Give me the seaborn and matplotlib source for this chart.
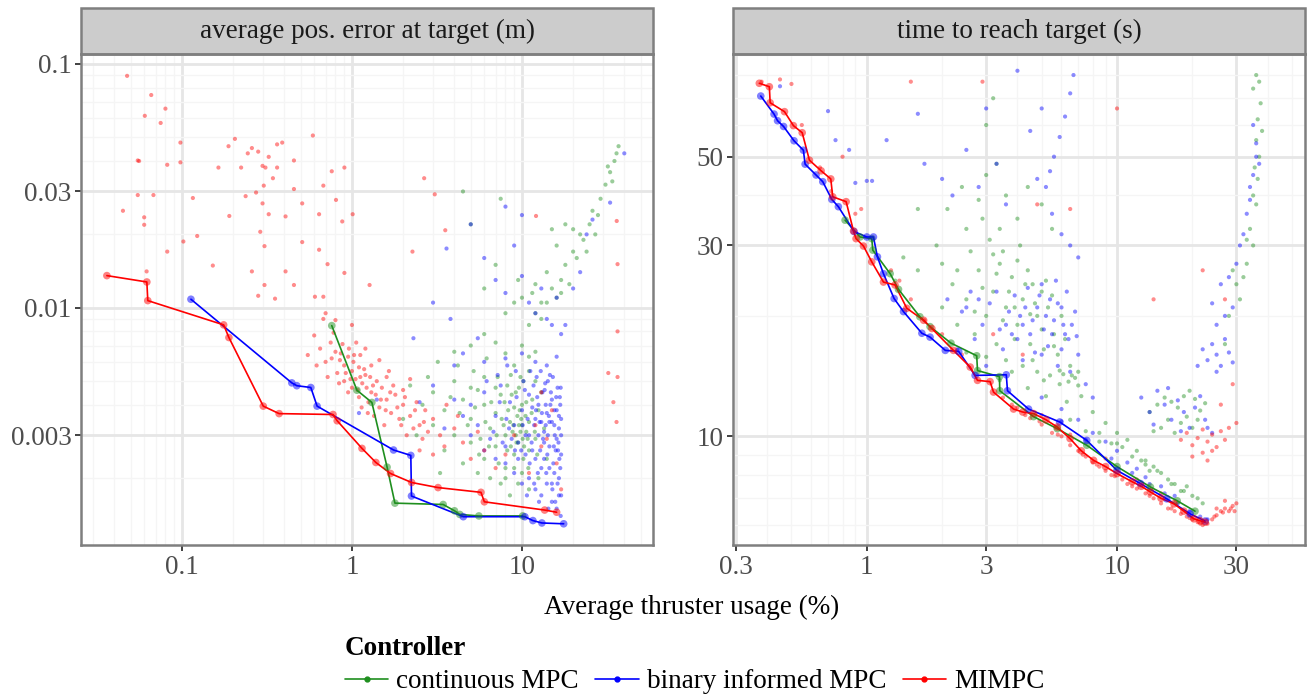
import matplotlib
matplotlib.use("Agg")
import matplotlib.pyplot as plt
import matplotlib.ticker as mticker
from matplotlib.lines import Line2D
from matplotlib.patches import Rectangle
import pandas as pd
import seaborn as sns

# ---- data -------------------------------------------------------------
controllers = ["continuous MPC", "binary informed MPC", "MIMPC"]
palette = {"continuous MPC": "#1f8f1f", "binary informed MPC": "#0000ff", "MIMPC": "#ff0000"}

# Pareto fronts, left panel (usage %, position error m)
err_front_mpc = [(0.761, 0.00845), (1.07, 0.00459), (1.31, 0.00409), (1.61, 0.00222), (1.79, 0.00158),
                 (3.44, 0.00156), (4.01, 0.00147), (4.31, 0.00142), (5.58, 0.0014), (10.1, 0.0014)]
err_front_bin = [(0.113, 0.01084), (0.443, 0.00492), (0.474, 0.00479), (0.573, 0.00471), (0.624, 0.00395),
                 (1.757, 0.00261), (2.22, 0.00248), (2.24, 0.00169), (4.52, 0.00139), (10.4, 0.00139),
                 (11.6, 0.00134), (13.1, 0.00131), (17.6, 0.0013)]
err_front_mim = [(0.0362, 0.01355), (0.0622, 0.01276), (0.063, 0.0107), (0.176, 0.00851), (0.189, 0.00755),
                 (0.301, 0.00395), (0.373, 0.00368), (0.774, 0.00365), (0.819, 0.00344), (1.146, 0.00265),
                 (1.383, 0.00232), (1.687, 0.00209), (2.244, 0.00192), (3.21, 0.00183), (5.74, 0.00175),
                 (6.01, 0.0016), (13.6, 0.00148), (16.0, 0.00145)]

# Pareto fronts, right panel (usage %, time s)
time_front_mpc = [(0.819, 34.7), (0.94, 31.5), (1.047, 31.2), (1.057, 29.2), (1.24, 25.5), (1.339, 23.3),
                  (1.63, 19.9), (1.79, 18.8), (2.17, 17.1), (2.75, 15.9), (2.77, 14.6), (3.39, 14.1),
                  (3.40, 13.0), (4.64, 11.2), (5.77, 10.45), (7.57, 9.5), (10.0, 8.4), (13.6, 7.47),
                  (17.4, 6.9), (20.5, 6.5)]
time_front_bin = [(0.377, 70.9), (0.426, 63.9), (0.44, 61.5), (0.465, 59.5), (0.512, 54.8), (0.558, 51.9),
                  (0.567, 47.9), (0.627, 45.0), (0.667, 43.3), (0.725, 39.1), (0.77, 37.5), (0.89, 32.5),
                  (1.0, 31.5), (1.063, 31.5), (1.103, 28.1), (1.166, 25.5), (1.286, 22.1), (1.402, 20.5),
                  (1.66, 18.1), (1.79, 17.7), (2.06, 16.4), (2.33, 16.3), (2.71, 14.2), (3.61, 14.25),
                  (3.65, 13.0), (4.43, 11.7), (5.9, 10.86), (7.57, 9.77), (10.0, 8.22), (12.4, 7.62),
                  (15.8, 6.98), (19.6, 6.4), (22.5, 6.14)]
time_front_mim = [(0.372, 76.3), (0.408, 74.8), (0.411, 68.2), (0.469, 64.8), (0.509, 59.8), (0.552, 57.4),
                  (0.590, 49.0), (0.657, 46.1), (0.718, 44.0), (0.731, 39.7), (0.827, 38.6), (0.885, 32.6),
                  (0.906, 31.2), (0.97, 29.9), (1.047, 27.3), (1.166, 24.3), (1.297, 23.9), (1.445, 20.9),
                  (1.688, 19.5), (1.82, 18.6), (2.22, 16.4), (2.59, 14.9), (2.77, 13.8), (3.11, 13.7),
                  (3.21, 12.9), (3.86, 11.7), (4.2, 11.5), (4.64, 11.4), (5.2, 11.0), (5.77, 10.55),
                  (6.49, 9.87), (7.2, 9.2), (8.06, 8.71), (9.0, 8.4), (10.0, 8.07), (11.5, 7.7),
                  (12.5, 7.5), (13.6, 7.26), (15.0, 7.0), (16.9, 6.78), (18.5, 6.5), (20.3, 6.22),
                  (21.5, 6.15), (22.5, 6.1)]

# individual runs, left panel
err_runs_mpc = [(3.0, 0.0045), (3.5, 0.0038), (4.0, 0.0050), (4.5, 0.0042), (5.0, 0.0035), (5.5, 0.0046),
                (6.0, 0.0040), (6.5, 0.0032), (7.0, 0.0037), (7.5, 0.0044), (8.0, 0.0030), (8.5, 0.0034),
                (9.0, 0.0039), (9.5, 0.0028), (10, 0.0033), (10.5, 0.0036), (11, 0.0026), (9.0, 0.0025),
                (8.0, 0.0022), (7.0, 0.0027), (6.0, 0.0024), (5.0, 0.0028), (4.0, 0.0030), (3.5, 0.0026),
                (3.0, 0.0033), (2.6, 0.0040), (2.8, 0.0052), (3.2, 0.0060), (4.2, 0.0058), (5.2, 0.0055),
                (6.2, 0.0062), (7.2, 0.0052), (8.2, 0.0048), (9.2, 0.0045), (10.2, 0.0050), (11.5, 0.0042),
                (12.5, 0.0038), (13.5, 0.0032), (12, 0.0029), (10, 0.0021), (9.5, 0.0019), (8.5, 0.0017),
                (7.5, 0.0019), (6.5, 0.0020), (5.5, 0.0021), (4.5, 0.0023), (11, 0.0018), (12.5, 0.0020),
                (14, 0.0024), (13, 0.0045), (11, 0.0055), (9, 0.0058), (8, 0.0065), (10, 0.0070),
                (12, 0.0066), (7, 0.0072), (6, 0.0078), (5, 0.0070), (4, 0.0066), (2.2, 0.0048),
                (2.0, 0.0035), (2.4, 0.0030), (3.3, 0.0021), (9.8, 0.0031), (9.9, 0.0035), (10.1, 0.0029),
                (9.6, 0.0033), (8.8, 0.0031), (10.3, 0.0027), (9.4, 0.0036), (8.6, 0.0027), (10.6, 0.0031),
                (9.2, 0.0030), (7.8, 0.0033), (8.3, 0.0038), (10, 0.0040), (11, 0.0034),
                (11, 0.0085), (12, 0.0095), (13, 0.009), (14, 0.0105), (15, 0.012), (16, 0.011),
                (17, 0.013), (18, 0.015), (19, 0.0125), (20, 0.017), (21, 0.016), (22, 0.02), (23, 0.019),
                (25, 0.022), (26, 0.025), (28, 0.024), (29, 0.028), (31, 0.032), (33, 0.036), (34, 0.033),
                (35, 0.04), (36, 0.043), (37, 0.046), (32, 0.038), (27, 0.02), (24, 0.017), (12, 0.0125),
                (10, 0.011), (9, 0.0105), (8, 0.0095), (6, 0.012), (7, 0.015), (5, 0.022), (4.5, 0.03),
                (7.5, 0.028), (9.5, 0.013), (14, 0.014), (16, 0.018), (15, 0.021), (18, 0.022), (20, 0.021),
                (17, 0.0115), (13, 0.0105), (11.5, 0.0115)]
err_runs_mpc_core = [(8.9, 0.0033), (9.3, 0.0028), (9.7, 0.0038), (10.2, 0.0024), (10.8, 0.0029), (8.2, 0.0026),
                     (7.6, 0.0035), (7.1, 0.0030), (6.6, 0.0041), (6.1, 0.0034), (5.7, 0.0029), (5.3, 0.0039),
                     (4.8, 0.0033), (4.3, 0.0037), (3.8, 0.0043), (8.7, 0.0044), (9.6, 0.0047), (10.6, 0.0041),
                     (11.4, 0.0037), (11.9, 0.0031), (12.3, 0.0025), (9.0, 0.0022), (8.0, 0.0020), (7.3, 0.0023),
                     (6.4, 0.0027), (5.6, 0.0025), (10.9, 0.0022), (9.8, 0.0052), (8.6, 0.0053), (7.9, 0.0041),
                     (7.0, 0.0047), (6.0, 0.0052), (5.0, 0.0047), (11.0, 0.0063), (12.0, 0.0050)]
err_runs_bin = [(5.0, 0.0040), (5.5, 0.0033), (6.0, 0.0045), (6.5, 0.0029), (7.0, 0.0036), (7.5, 0.0048),
                (8.0, 0.0027), (8.5, 0.0041), (9.0, 0.0033), (9.5, 0.0024), (10, 0.0038), (10.5, 0.0030),
                (11, 0.0044), (11.5, 0.0026), (12, 0.0035), (12.5, 0.0040), (13, 0.0022), (13.5, 0.0031),
                (14, 0.0037), (14.5, 0.0027), (15, 0.0042), (15.5, 0.0033), (16, 0.0029), (16.5, 0.0036),
                (17, 0.0025), (16.8, 0.0040), (16.2, 0.0047), (15.2, 0.0052), (14.2, 0.0050), (13.2, 0.0045),
                (12.2, 0.0052), (11.2, 0.0055), (10.2, 0.0050), (9.2, 0.0055), (8.2, 0.0058), (7.2, 0.0053),
                (6.2, 0.0050), (12, 0.0018), (13, 0.0017), (14, 0.0019), (15, 0.0016), (16, 0.0015),
                (17, 0.0017), (16.5, 0.0020), (15.5, 0.0021), (14.5, 0.0022), (11, 0.0020), (10, 0.0019),
                (9, 0.0021), (8, 0.0023), (7, 0.0024), (6, 0.0026), (5, 0.0030), (4.5, 0.0036),
                (4.0, 0.0042), (3.5, 0.0032), (12.5, 0.0030), (13.5, 0.0028), (14.5, 0.0034), (15.5, 0.0038),
                (16.5, 0.0032), (17, 0.0030), (11.8, 0.0033), (12.8, 0.0026), (13.8, 0.0040), (14.8, 0.0045),
                (15.8, 0.0026), (16.8, 0.0022), (10.8, 0.0035), (11.5, 0.0039), (12.3, 0.0043), (13.1, 0.0037),
                (14.2, 0.0030), (15.0, 0.0034), (16.0, 0.0038), (16.7, 0.0043), (13.5, 0.0024), (15, 0.0019),
                (16.5, 0.0017), (12, 0.0024), (10.5, 0.0025), (9.5, 0.0028), (17, 0.0035), (16.3, 0.0026),
                (15.6, 0.0030), (11, 0.0030), (12.7, 0.0034), (13.8, 0.0033), (8, 0.0062), (10, 0.0065),
                (12, 0.0060), (14, 0.0058), (16, 0.0063), (6, 0.0060), (4, 0.0058), (3, 0.0048), (2.5, 0.0041),
                (1.1, 0.0037), (1.4, 0.0042), (2.3, 0.0075), (3.0, 0.0105), (3.6, 0.0175), (5, 0.022),
                (6, 0.016), (7, 0.013), (8, 0.0115), (9, 0.018), (10, 0.0135), (11, 0.0105), (12, 0.0095),
                (13, 0.012), (14, 0.009), (15, 0.0085), (16, 0.011), (17, 0.0078), (18, 0.0085), (20, 0.012),
                (22, 0.014), (24, 0.02), (26, 0.023), (33, 0.027), (40, 0.043), (10, 0.024), (8, 0.026),
                (5.5, 0.0075), (4.5, 0.0065), (3.8, 0.0090)]
err_runs_bin_core = [(6.8, 0.0031), (7.4, 0.0041), (8.1, 0.0035), (8.7, 0.0029), (9.3, 0.0043), (9.9, 0.0026),
                     (10.4, 0.0046), (11.1, 0.0023), (11.7, 0.0048), (12.4, 0.0021), (13.0, 0.0034), (13.6, 0.0046),
                     (14.1, 0.0025), (14.7, 0.0040), (15.3, 0.0023), (15.9, 0.0043), (16.4, 0.0028), (16.9, 0.0047),
                     (12.1, 0.0038), (13.3, 0.0029), (14.4, 0.0036), (15.4, 0.0027), (16.6, 0.0024), (11.4, 0.0028),
                     (10.1, 0.0033), (9.1, 0.0026), (8.4, 0.0032), (7.7, 0.0028), (13.9, 0.0021), (15.1, 0.0018),
                     (16.2, 0.0019), (12.6, 0.0016), (14.3, 0.0015), (11.8, 0.0019), (10.7, 0.0017), (16.9, 0.0014),
                     (15.7, 0.0016), (13.7, 0.0049), (12.9, 0.0055), (14.6, 0.0053)]
err_runs_mim = [(0.0476, 0.0894), (0.066, 0.0746), (0.0605, 0.0613), (0.075, 0.0573), (0.08, 0.0656),
                (0.055, 0.0402), (0.056, 0.0400), (0.098, 0.0476), (0.098, 0.0395), (0.082, 0.0386),
                (0.055, 0.029), (0.068, 0.029), (0.06, 0.0235), (0.06, 0.0219), (0.045, 0.025),
                (0.082, 0.017), (0.102, 0.0187), (0.116, 0.0282), (0.123, 0.0197), (0.152, 0.0149),
                (0.062, 0.0141), (0.244, 0.0430), (0.258, 0.0452), (0.281, 0.0437), (0.298, 0.0382),
                (0.31, 0.0376), (0.324, 0.0416), (0.363, 0.0468), (0.389, 0.0476), (0.343, 0.034),
                (0.303, 0.0317), (0.273, 0.0297), (0.298, 0.0268), (0.324, 0.0242), (0.289, 0.0205),
                (0.306, 0.0179), (0.258, 0.0141), (0.306, 0.0124), (0.281, 0.0112), (0.205, 0.0493),
                (0.188, 0.046), (0.164, 0.0376), (0.223, 0.0376), (0.237, 0.0287), (0.19, 0.0238),
                (0.363, 0.0376), (0.456, 0.0402), (0.456, 0.0307), (0.407, 0.0237), (0.51, 0.0268),
                (0.589, 0.0509), (0.679, 0.0317), (0.641, 0.0242), (0.761, 0.0363), (0.903, 0.0376),
                (0.806, 0.0277), (1.01, 0.0242), (0.877, 0.0226), (0.641, 0.0173), (0.719, 0.0151),
                (0.903, 0.0139), (0.679, 0.0111), (0.51, 0.0186), (0.407, 0.0141), (0.353, 0.0109),
                (0.456, 0.0124), (1.27, 0.0124), (2.27, 0.0170), (2.66, 0.034), (3.54, 0.0208),
                (3.07, 0.0292), (12.1, 0.0238), (36.1, 0.0227), (36.5, 0.0151), (36.5, 0.0080),
                (32.2, 0.0054), (36.5, 0.0052), (34.5, 0.0041), (36, 0.0034), (0.606, 0.0111), (0.679, 0.009),
                (0.75, 0.0072), (0.8, 0.0066), (0.85, 0.0061), (0.9, 0.0058), (0.95, 0.0063), (1.0, 0.0055),
                (1.05, 0.0051), (1.1, 0.0057), (1.15, 0.0049), (1.2, 0.0053), (1.0, 0.0047), (0.9, 0.0050),
                (0.82, 0.0054), (0.7, 0.0060), (0.65, 0.0068), (0.78, 0.0079), (0.88, 0.0071), (1.12, 0.0064),
                (1.3, 0.0058), (1.4, 0.0050), (1.3, 0.0045), (1.5, 0.0047), (1.6, 0.0042), (1.45, 0.0039),
                (1.7, 0.0037), (1.8, 0.0044), (2.0, 0.0040), (1.9, 0.0035), (2.2, 0.0036), (2.3, 0.0032),
                (2.1, 0.0030), (2.5, 0.0033), (2.6, 0.0029), (2.8, 0.0031), (1.25, 0.0041), (1.1, 0.0043),
                (0.95, 0.0045), (1.6, 0.0052), (1.75, 0.0048), (2.0, 0.0046), (2.4, 0.0041), (2.7, 0.0038),
                (3.0, 0.0035), (3.3, 0.0030), (3.5, 0.0027), (3.0, 0.0025), (2.5, 0.0026), (4.0, 0.0032),
                (4.5, 0.0028), (5.0, 0.0024), (6.0, 0.0026), (5.5, 0.0031), (7.0, 0.0022), (8.0, 0.0025),
                (4.2, 0.0036), (3.6, 0.0040), (2.2, 0.0051), (1.2, 0.0068), (0.6, 0.0077), (0.55, 0.0064),
                (0.62, 0.0058), (0.72, 0.0052), (1.35, 0.0036), (1.55, 0.0033), (0.8, 0.0089), (1.0, 0.0085),
                (0.7, 0.0095), (9, 0.0030), (11, 0.0021), (13, 0.0027), (12, 0.0033), (14, 0.0029),
                (15, 0.0038), (16, 0.0023), (13, 0.0045), (17, 0.0018)]
err_runs_mim_core = [(0.92, 0.0054), (1.02, 0.0060), (1.08, 0.0046), (1.18, 0.0056), (1.22, 0.0047), (1.28, 0.0052),
                     (1.38, 0.0044), (1.48, 0.0042), (1.58, 0.0038), (1.68, 0.0045), (0.86, 0.0065), (0.96, 0.0068),
                     (1.06, 0.0072), (0.76, 0.0062), (0.84, 0.0049), (1.14, 0.0039), (1.24, 0.0037), (1.85, 0.0039),
                     (1.95, 0.0033), (2.05, 0.0043), (2.35, 0.0038), (2.65, 0.0034), (1.65, 0.0055), (1.45, 0.0061),
                     (0.98, 0.0051), (1.33, 0.0048), (1.12, 0.0052), (1.03, 0.0064)]

# individual runs, right panel
time_runs_mpc = [(2.1, 37), (2.5, 33), (1.9, 30), (2.8, 39), (3.0, 45), (3.3, 48), (2.4, 42), (2.0, 27),
                 (3.6, 40), (4.0, 35), (4.4, 42), (5, 38), (5.5, 33), (3.2, 70), (3.0, 60), (1.6, 37),
                 (1.4, 28), (1.6, 26), (1.3, 24.5), (2.2, 24), (2.5, 22), (2.8, 26), (3.0, 20), (3.2, 23),
                 (3.4, 27), (3.6, 21), (3.8, 25), (4.0, 19), (4.2, 22), (4.4, 26), (4.6, 24), (4.8, 20),
                 (5.0, 23), (5.3, 21), (5.6, 18), (6.0, 20), (2.6, 29), (3.1, 31), (3.5, 29), (4.1, 30),
                 (2.0, 21), (2.3, 19), (2.7, 18), (3.3, 17), (3.9, 17.5), (4.5, 17), (5.1, 16.5), (5.8, 16),
                 (6.5, 15), (7, 14.5), (4.8, 14.5), (5.4, 14.2), (6.1, 14.3), (6.8, 14.0), (5.9, 13.5),
                 (4.2, 15), (3.6, 15.5), (3.0, 15.8), (2.5, 16.2), (3.4, 13.8), (4.4, 13.2), (5.2, 12.6),
                 (6.3, 12.2), (7.2, 12.6), (8, 11.5), (9, 10.8), (10, 10.2), (11, 9.8), (12, 9.2), (13, 8.7),
                 (14, 8.4), (15, 8.1), (16, 7.8), (17, 7.6), (18, 7.3), (20, 7.1), (19, 7.5), (9.5, 9.6),
                 (11.5, 8.9), (13.5, 8.2), (7.5, 10.3), (8.5, 9.7), (6.5, 11), (13.5, 11.5), (14.5, 12.0),
                 (15.5, 12.5), (16.5, 12.2), (17.5, 11.8), (18.5, 12.6), (19.5, 13.0), (20.5, 12.4),
                 (21.5, 11.6), (22.5, 12.1), (16, 11), (18, 10.8), (20, 10.5), (17, 10.2), (15, 10.5),
                 (14, 10.3), (19, 11.2), (21, 11), (36, 80), (37, 77), (35, 74), (37.5, 68), (36.5, 62),
                 (38, 58), (36, 55), (37, 50), (35.5, 47), (36.5, 44), (35, 40), (36, 38), (34, 33), (33, 31),
                 (35, 30), (32, 25), (30, 24), (28, 20), (31, 22), (33, 27), (29, 26), (27, 17)]
time_runs_mpc_core = [(2.3, 26), (2.9, 23.5), (3.3, 25.5), (3.7, 23), (4.3, 24), (4.7, 21.5), (5.2, 24.5),
                      (5.5, 22.5), (3.9, 21), (3.5, 19.5), (4.5, 20.2), (5.0, 18.5), (5.6, 16.8), (6.2, 17.5),
                      (6.6, 14.2), (5.9, 14.6), (5.1, 13.8), (4.6, 15.5), (3.8, 14.5), (4.0, 27.5), (3.2, 28.5),
                      (2.7, 20.5), (3.4, 33), (2.9, 35), (6.4, 13.7), (7.0, 13.4), (8.5, 10.2), (10.5, 9.4),
                      (12.5, 8.7), (14.5, 8.2), (16.5, 7.6), (18.5, 7.3), (10, 9.6), (13, 8.5), (21, 7.0),
                      (22, 6.8)]
time_runs_bin = [(0.45, 75), (0.7, 65), (0.75, 55), (0.85, 52), (0.9, 43), (1.0, 43.5), (1.05, 43.5),
                 (1.2, 55), (1.6, 64), (1.7, 48), (2.0, 44), (2.2, 40), (2.5, 52), (2.8, 42), (3.3, 48),
                 (3.6, 38), (4.5, 58), (4.8, 44), (5.2, 42), (5.5, 36), (6.0, 32), (6.5, 30), (7.0, 28),
                 (5.4, 46), (5.6, 50), (5.9, 56), (6.2, 63), (6.5, 72), (6.7, 80), (4.0, 82), (3.0, 66),
                 (5.0, 66), (2.1, 22), (2.4, 20.5), (2.6, 23), (2.9, 19), (3.1, 21.5), (3.4, 18.5),
                 (3.7, 20.5), (4.0, 17.5), (4.3, 21), (4.6, 19.5), (4.9, 22.5), (5.2, 20), (5.5, 18),
                 (5.8, 21.5), (6.1, 19), (6.4, 17.5), (6.8, 20.5), (5.0, 24), (5.7, 24.5), (6.3, 23),
                 (4.4, 23.5), (3.5, 16.5), (4.2, 15.5), (5.0, 16), (5.8, 15), (6.5, 14.5), (7.0, 16),
                 (7.5, 13.5), (8.0, 12.5), (3.0, 15), (2.7, 17.5), (2.3, 16.5), (7, 11), (8, 10.2),
                 (9, 9.7), (10, 9.2), (11, 8.6), (12, 8.3), (13, 7.9), (15, 7.5), (17, 7.1), (6, 11.7),
                 (5, 12.5), (12.5, 12.5), (13.5, 11.5), (14.5, 13), (15.5, 12), (16.5, 11), (17.5, 12.3),
                 (18.5, 11.5), (19.5, 10.5), (20.5, 11.8), (21.5, 12.6), (22.5, 11), (16, 13.2), (14, 10.7),
                 (18, 10.3), (23, 10.5), (24, 10.2), (21, 15), (22, 16.5), (23, 15.5), (24, 17), (25, 16),
                 (26, 15), (27, 17.5), (28, 16.2), (29, 15.3), (25, 19), (27, 20), (29, 21), (24, 21.5),
                 (26, 24), (28, 25), (25, 14.5), (30, 27), (31, 30), (32, 32), (33, 36), (34, 42), (35, 45),
                 (36, 50), (36, 54), (37, 48), (35, 60), (34, 39)]
time_runs_bin_core = [(2.5, 21), (2.8, 22), (3.3, 23), (3.6, 19), (3.9, 22.5), (4.1, 20), (4.5, 18), (4.8, 21),
                      (5.1, 18.5), (5.4, 22), (5.6, 19.5), (6.0, 21), (6.2, 18), (6.6, 19), (5.3, 16.8),
                      (4.7, 16.2), (6.0, 16.5), (6.9, 17.8), (4.2, 19), (3.8, 18), (6, 10.9), (7.5, 9.8),
                      (9.5, 8.8), (11.5, 8.1), (13.5, 7.6), (15.5, 7.2), (17.5, 6.8), (19.5, 6.5), (21.5, 6.3),
                      (23, 6.2)]
time_runs_mim = [(0.38, 77), (0.45, 78), (0.5, 76), (0.55, 60), (0.65, 47), (0.72, 41), (0.8, 50), (1.5, 77),
                 (2.9, 77), (0.9, 36), (0.95, 37), (1.25, 26), (1.35, 24.5), (1.5, 22), (1.7, 19.5),
                 (2.0, 18), (2.4, 16), (3.2, 18), (4.2, 16), (4.8, 38), (6.5, 37), (10, 66), (22, 26),
                 (14, 22), (27, 22), (26, 12), (29, 13.5), (30, 10.8), (3.5, 12.5), (4.0, 11.8), (4.5, 11.1),
                 (5.0, 10.7), (5.5, 10.2), (6.0, 10.0), (6.5, 9.5), (7.0, 9.2), (7.5, 8.9), (8.0, 8.6),
                 (8.5, 8.4), (9.0, 8.2), (9.5, 8.0), (10.5, 7.8), (11, 7.6), (12, 7.4), (13, 7.2), (14, 7.0),
                 (15, 6.8), (16, 6.6), (17, 6.5), (18, 6.4), (19, 6.3), (20, 6.2), (21, 6.1), (22, 6.0),
                 (23, 6.05), (24, 6.2), (25, 6.35), (26, 6.5), (27, 6.6), (28, 6.5), (29, 6.7), (30, 6.8),
                 (25, 6.6), (27, 6.9), (5.0, 11.3), (6.5, 10.1), (9.0, 8.8), (12, 7.8), (15, 7.2), (18, 9.8),
                 (19, 10.2), (20, 9.5), (21, 9.9), (22, 10.4), (23, 9.7), (24, 10.1), (25, 9.4), (26, 10.3),
                 (27, 9.8), (28, 10.5), (22, 9.1), (24, 9.2), (20, 8.9), (23, 8.7)]
time_runs_mim_core = [(3.8, 12.0), (4.3, 11.3), (4.9, 10.9), (5.8, 10.1), (7.3, 9.0), (8.3, 8.5), (9.8, 7.95),
                      (11.5, 7.5), (13.5, 7.1), (16.5, 6.6), (19.5, 6.25), (21.5, 6.05), (24.5, 6.3),
                      (26.5, 6.45), (28.5, 6.6), (29.5, 6.5)]

err_ticks = [0.003, 0.01, 0.03, 0.1]
err_ticklabels = ["0.003", "0.01", "0.03", "0.1"]
time_ticks = [10, 30, 50]
time_ticklabels = ["10", "30", "50"]
usage_ticks_left = [0.1, 1, 10]
usage_ticklabels_left = ["0.1", "1", "10"]
usage_ticks_right = [0.3, 1, 3, 10, 30]
usage_ticklabels_right = ["0.3", "1", "3", "10", "30"]


def to_frame(parts):
    rows = []
    for name, pts in zip(controllers, parts):
        for x, y in pts:
            rows.append({"usage": x, "value": y, "Controller": name})
    return pd.DataFrame(rows)


err_front = to_frame([err_front_mpc, err_front_bin, err_front_mim])
err_runs = to_frame([err_runs_mpc + err_runs_mpc_core, err_runs_bin + err_runs_bin_core,
                     err_runs_mim + err_runs_mim_core])
time_front = to_frame([time_front_mpc, time_front_bin, time_front_mim])
time_runs = to_frame([time_runs_mpc + time_runs_mpc_core, time_runs_bin + time_runs_bin_core,
                      time_runs_mim + time_runs_mim_core])

# ---- style ------------------------------------------------------------
sns.set_style("white")
plt.rcParams["font.family"] = ["Liberation Serif", "DejaVu Serif"]
plt.rcParams["text.color"] = "black"
FS = 19.5

fig = plt.figure(figsize=(13.11, 6.97), dpi=100)
ax1 = fig.add_axes([81.3 / 1311, 1 - 545 / 697, 571.7 / 1311, 491 / 697])
ax2 = fig.add_axes([733 / 1311, 1 - 545 / 697, 572 / 1311, 491 / 697])


def draw_panel(ax, runs, front, xlim, ylim, xt, xtl, yt, ytl, title):
    ax.set_xscale("log")
    ax.set_yscale("log")
    sns.scatterplot(data=runs, x="usage", y="value", hue="Controller", hue_order=controllers,
                    palette=palette, s=9, alpha=0.45, linewidth=0, legend=False, ax=ax, zorder=2)
    for name in controllers:
        sub = front[front["Controller"] == name]
        sns.lineplot(data=sub, x="usage", y="value", sort=False, estimator=None, color=palette[name],
                     linewidth=1.2, legend=False, ax=ax, zorder=3)
    sns.scatterplot(data=front, x="usage", y="value", hue="Controller", hue_order=controllers,
                    palette=palette, s=30, alpha=0.5, linewidth=0, legend=False, ax=ax, zorder=4)
    ax.set_xlim(*xlim)
    ax.set_ylim(*ylim)
    ax.xaxis.set_major_locator(mticker.FixedLocator(xt))
    ax.xaxis.set_major_formatter(mticker.FixedFormatter(xtl))
    ax.yaxis.set_major_locator(mticker.FixedLocator(yt))
    ax.yaxis.set_major_formatter(mticker.FixedFormatter(ytl))
    ax.xaxis.set_minor_locator(mticker.LogLocator(subs=(2, 3, 4, 5, 6, 7, 8, 9)))
    ax.yaxis.set_minor_locator(mticker.LogLocator(subs=(2, 3, 4, 5, 6, 7, 8, 9)))
    ax.xaxis.set_minor_formatter(mticker.NullFormatter())
    ax.yaxis.set_minor_formatter(mticker.NullFormatter())
    ax.grid(which="major", color="#e6e6e6", linewidth=2.0, zorder=0)
    ax.grid(which="minor", color="#f5f5f5", linewidth=1.0, zorder=0)
    ax.set_axisbelow(True)
    ax.tick_params(which="major", length=4, width=1.3, color="#333333", labelcolor="#4d4d4d",
                   labelsize=FS, pad=3, bottom=True, left=True)
    ax.tick_params(which="minor", length=0)
    for sp in ax.spines.values():
        sp.set_color("#7f7f7f")
        sp.set_linewidth(1.8)
    ax.set_xlabel("")
    ax.set_ylabel("")
    # facet strip
    strip_h = 46 / 491
    ax.add_patch(Rectangle((0, 1), 1, strip_h, transform=ax.transAxes, clip_on=False,
                           facecolor="#cccccc", edgecolor="#7f7f7f", linewidth=1.8))
    ax.text(0.5, 1 + strip_h / 2, title, transform=ax.transAxes, ha="center", va="center",
            fontsize=FS, color="#1a1a1a")


draw_panel(ax1, err_runs, err_front, (0.0256, 59.0), (0.001064, 0.1099),
           usage_ticks_left, usage_ticklabels_left, err_ticks, err_ticklabels,
           "average pos. error at target (m)")
draw_panel(ax2, time_runs, time_front, (0.292, 56.4), (5.35, 90.3),
           usage_ticks_right, usage_ticklabels_right, time_ticks, time_ticklabels,
           "time to reach target (s)")

fig.text(692 / 1311, 1 - 607 / 697, "Average thruster usage (%)", ha="center", va="center",
         fontsize=FS, color="black")

handles = [Line2D([0], [0], color=palette[c], linewidth=1.2, marker="o", markersize=3.5) for c in controllers]
leg = fig.legend(handles, controllers, title="Controller", ncol=3, loc="upper left",
                 bbox_to_anchor=(345 / 1311, 1 - 636 / 697), frameon=False, fontsize=FS,
                 title_fontproperties={"weight": "bold", "size": FS}, alignment="left",
                 handlelength=1.6, handletextpad=0.3, columnspacing=0.6, borderpad=0,
                 labelspacing=0.3, borderaxespad=0, labelcolor="black")
leg.get_title().set_color("black")

fig.savefig("out.png", dpi=100)
